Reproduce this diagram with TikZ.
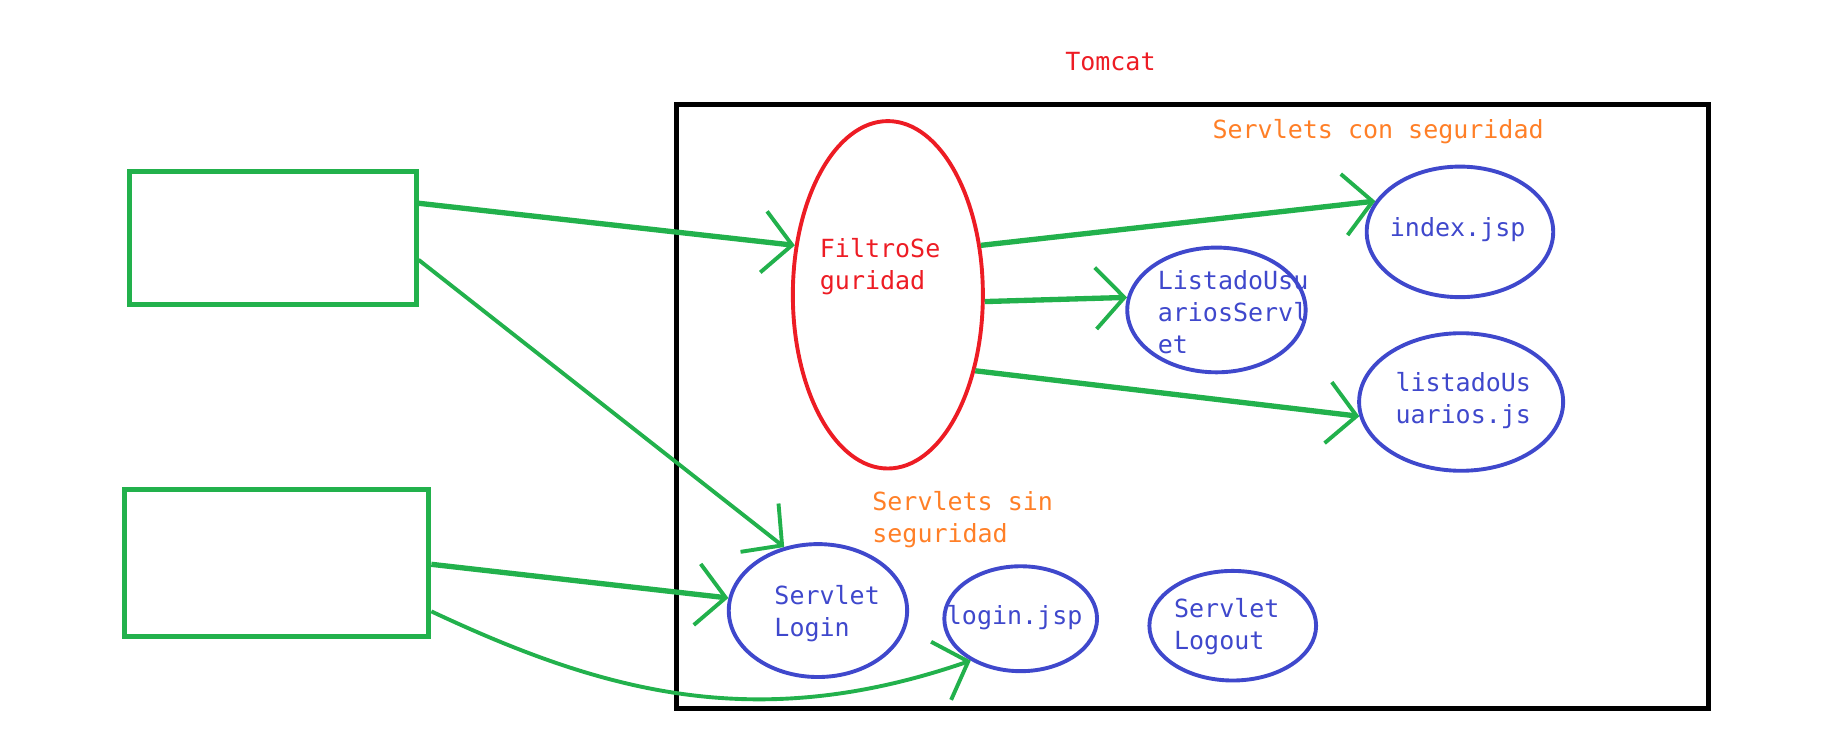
\documentclass[tikz,border=0pt]{standalone}
\usepackage{fontspec}
\setmonofont{DejaVu Sans Mono}
\usetikzlibrary{shapes.geometric,arrows.meta,calc}
\definecolor{pgreen}{RGB}{34,177,76}
\definecolor{pred}{RGB}{237,28,36}
\definecolor{pblue}{RGB}{63,72,204}
\definecolor{porange}{RGB}{255,127,39}
\tikzset{
  ell/.style={draw, ellipse, inner sep=0pt, line width=0.95pt},
  rectbox/.style={draw=pgreen, line width=1.2pt, inner sep=0pt},
  txt/.style={font=\fontsize{6.1}{7.8}\selectfont\ttfamily, inner sep=0pt, align=left},
  arr/.style={draw=pgreen, line width=1.3pt, -{Straight Barb[length=7pt,width=15pt,line width=0.95pt]}},
  arrthin/.style={arr, line width=0.95pt}
}
\begin{document}
\begin{tikzpicture}[x=0.01cm,y=-0.01cm]
\useasboundingbox (0,0) rectangle (1568,638.5);
% container
\node[draw, line width=1.2pt, minimum width=8.85cm, minimum height=5.18cm, inner sep=0pt] (tomcat) at (1023.5,349) {};
% clients
\node[rectbox, minimum width=2.46cm, minimum height=1.14cm] (c1) at (234,204) {};
\node[rectbox, minimum width=2.61cm, minimum height=1.26cm] (c2) at (237.5,483) {};
% ellipses
\node[ell, draw=pred, minimum width=1.63cm, minimum height=2.98cm] (filtro) at (762,253) {};
\node[ell, draw=pblue, minimum width=1.60cm, minimum height=1.12cm] (index) at (1253,199) {};
\node[ell, draw=pblue, minimum width=1.53cm, minimum height=1.07cm] (lus) at (1044,266) {};
\node[ell, draw=pblue, minimum width=1.75cm, minimum height=1.18cm] (ljs) at (1254,345) {};
\node[ell, draw=pblue, minimum width=1.53cm, minimum height=1.14cm] (slogin) at (702,524) {};
\node[ell, draw=pblue, minimum width=1.31cm, minimum height=0.90cm] (ljsp) at (876,531) {};
\node[ell, draw=pblue, minimum width=1.43cm, minimum height=0.94cm] (slogout) at (1058,537) {};
% texts
\node[txt, text=pred] (tomcatlbl) at (953,53) {Tomcat};
\node[txt, text=porange, anchor=west] (conseg) at (1040,113) {Servlets con seguridad};
\node[txt, text=pred, anchor=west] (filtrotxt) at (703,229) {FiltroSe\\guridad};
\node[txt, text=pblue] (indextxt) at (1251,197) {index.jsp};
\node[txt, text=pblue, anchor=west] (lustxt) at (993,268) {ListadoUsu\\ariosServl\\et};
\node[txt, text=pblue, anchor=west] (ljstxt) at (1197,344) {listadoUs\\uarios.js};
\node[txt, text=porange, anchor=west] (sinseg) at (748,446) {Servlets sin\\seguridad};
\node[txt, text=pblue, anchor=west] (slogintxt) at (664,527) {Servlet\\Login};
\node[txt, text=pblue, anchor=west] (ljsptxt) at (812,530) {login.jsp};
\node[txt, text=pblue, anchor=west] (slogouttxt) at (1007,538) {Servlet\\Logout};
% connectors
\draw[arr] ($(c1.north east)!0.25!(c1.south east)$) -- (filtro.152);
\draw[arrthin] ($(c1.north east)!0.66!(c1.south east)$) -- (slogin.118);
\draw[arr] (filtro.28) -- (index.160);
\draw[arr] (filtro.-4) -- (lus.172);
\draw[arr] (filtro.-41) -- (ljs.188);
\draw[arr] ($(c2.north east)!0.51!(c2.south east)$) -- (slogin.172);
\draw[arrthin] ($(c2.north east)!0.82!(c2.south east)$) .. controls (520,595) and (650,630) .. (ljsp.220);
\end{tikzpicture}
\end{document}
